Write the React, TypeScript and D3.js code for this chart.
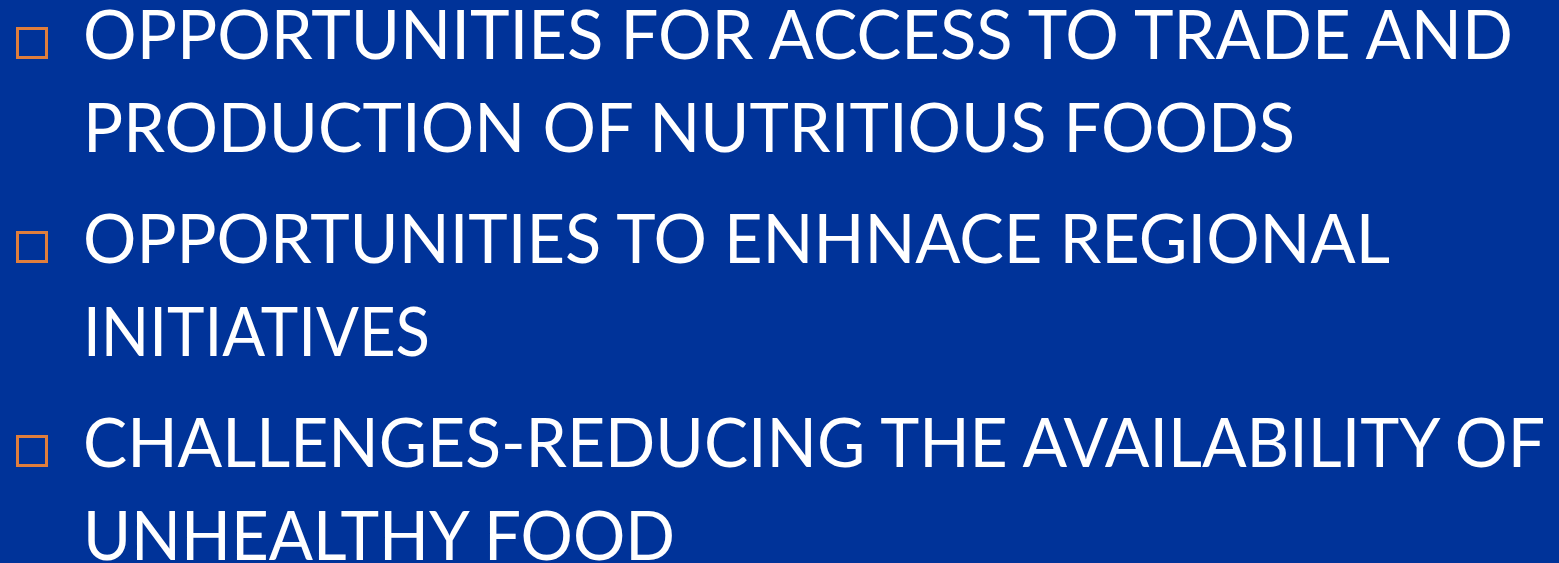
import React from "react";
import * as d3 from "d3";

const bulletItems: string[][] = [
  ["OPPORTUNITIES FOR ACCESS TO TRADE AND", "PRODUCTION OF NUTRITIOUS FOODS"],
  ["OPPORTUNITIES TO ENHNACE REGIONAL", "INITIATIVES"],
  ["CHALLENGES-REDUCING THE AVAILABILITY OF", "UNHEALTHY FOOD"],
];
// measured right edges of each text line (px)
const lineEnds: number[][] = [
  [1513, 1295],
  [1390, 430],
  [1545, 675],
];

const W = 1559;
const H = 563;
const BG = "#003399";
const BULLET = "#E07E3C";
const TEXT_X = 83;
const FIRST_BASE = 59;
const LINE_PITCH = 93;
const PARA_GAP = 111;

export default function App() {
  const paraBase = d3.range(bulletItems.length).map(
    (i) => FIRST_BASE + i * (LINE_PITCH + PARA_GAP)
  );
  return (
    <div style={{ position: "fixed", left: 0, top: 0, width: W, height: H }}>
      <svg width={W} height={H} style={{ display: "block" }}>
        <rect x={0} y={0} width={W} height={H} fill={BG} />
        {bulletItems.map((lines, i) => (
          <g key={i}>
            <rect
              x={17.5}
              y={paraBase[i] - 30.5}
              width={29}
              height={29}
              fill="none"
              stroke={BULLET}
              strokeWidth={3}
            />
            {lines.map((ln, j) => (
              <text
                key={j}
                x={TEXT_X}
                y={paraBase[i] + j * LINE_PITCH}
                fill="#ffffff"
                fontFamily="Lato, 'Liberation Sans', sans-serif"
                fontSize={68}
                textLength={lineEnds[i][j] - TEXT_X}
                lengthAdjust="spacingAndGlyphs"
              >
                {ln}
              </text>
            ))}
          </g>
        ))}
      </svg>
    </div>
  );
}
